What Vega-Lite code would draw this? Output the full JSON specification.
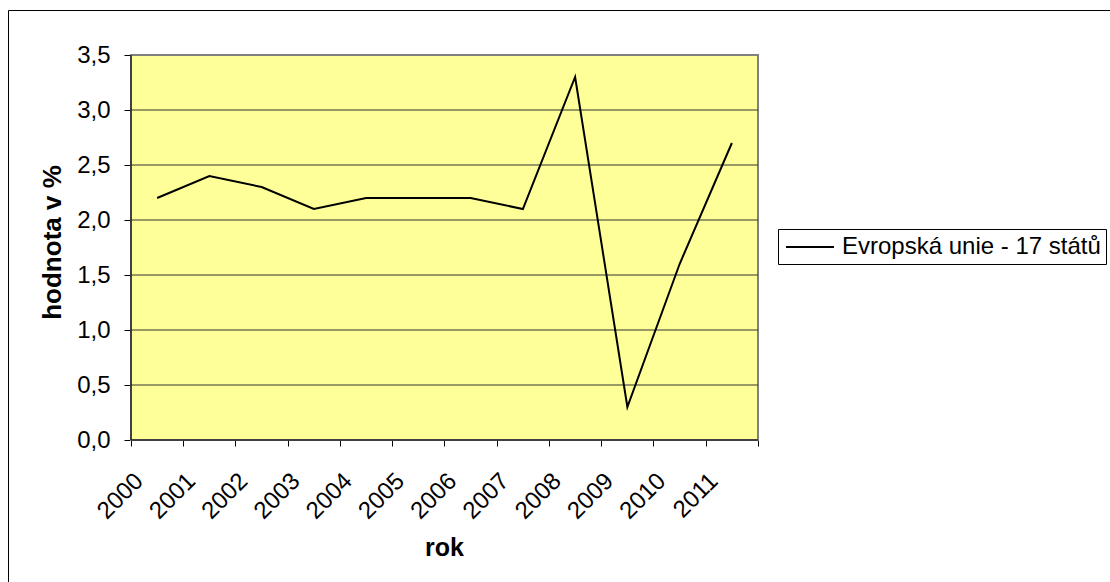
{
  "$schema": "https://vega.github.io/schema/vega-lite/v6.json",
  "width": 1110,
  "height": 580,
  "autosize": "none",
  "padding": {"left": 8, "top": 10, "right": 0, "bottom": 0},
  "background": "white",
  "config": {
    "view": {"stroke": "black", "strokeWidth": 1},
    "font": "Liberation Sans",
    "axis": {
      "labelFont": "Liberation Sans",
      "titleFont": "Liberation Sans",
      "labelColor": "black",
      "titleColor": "black",
      "tickColor": "black",
      "tickWidth": 1,
      "grid": false,
      "domain": false,
      "labelFontSize": 24,
      "titleFontSize": 26,
      "titleFontWeight": "bold",
      "labelFlush": false,
      "labelOverlap": false,
      "labelBound": false
    }
  },
  "datasets": {
    "eu17": [
      {"rok": 2000, "hodnota": 2.2, "rada": "Evropská unie - 17 států"},
      {"rok": 2001, "hodnota": 2.4, "rada": "Evropská unie - 17 států"},
      {"rok": 2002, "hodnota": 2.3, "rada": "Evropská unie - 17 států"},
      {"rok": 2003, "hodnota": 2.1, "rada": "Evropská unie - 17 států"},
      {"rok": 2004, "hodnota": 2.2, "rada": "Evropská unie - 17 států"},
      {"rok": 2005, "hodnota": 2.2, "rada": "Evropská unie - 17 států"},
      {"rok": 2006, "hodnota": 2.2, "rada": "Evropská unie - 17 států"},
      {"rok": 2007, "hodnota": 2.1, "rada": "Evropská unie - 17 států"},
      {"rok": 2008, "hodnota": 3.3, "rada": "Evropská unie - 17 států"},
      {"rok": 2009, "hodnota": 0.3, "rada": "Evropská unie - 17 států"},
      {"rok": 2010, "hodnota": 1.6, "rada": "Evropská unie - 17 států"},
      {"rok": 2011, "hodnota": 2.7, "rada": "Evropská unie - 17 států"}
    ],
    "mrizka": [
      {"h": 0.5}, {"h": 1.0}, {"h": 1.5}, {"h": 2.0}, {"h": 2.5}, {"h": 3.0}
    ]
  },
  "layer": [
    {
      "data": {"values": [{}]},
      "mark": {"type": "rect", "fill": "#FFFF99", "stroke": "#808080", "strokeWidth": 2},
      "encoding": {
        "x": {
          "datum": 1999.5,
          "type": "quantitative",
          "scale": {"domain": [1997.146, 2018.39], "nice": false, "zero": false},
          "axis": {
            "title": "rok",
            "values": [1999.5, 2000.5, 2001.5, 2002.5, 2003.5, 2004.5, 2005.5, 2006.5, 2007.5, 2008.5, 2009.5, 2010.5, 2011.5],
            "labelExpr": "datum.value < 2011 ? format(datum.value + 0.5, 'd') : ''",
            "offset": -150,
            "tickSize": 6,
            "labelAngle": -45,
            "labelAlign": "right",
            "labelBaseline": "middle",
            "labelPadding": 31,
            "labelOffset": 8,
            "titleX": 436,
            "titleY": 115,
            "titleAlign": "center",
            "titleBaseline": "alphabetic",
            "titleFontSize": 25
          }
        },
        "x2": {"datum": 2011.5},
        "y": {
          "datum": 0,
          "type": "quantitative",
          "scale": {"domain": [-1.3636, 3.9091], "nice": false, "zero": false},
          "axis": {
            "title": "hodnota v %",
            "values": [0, 0.5, 1, 1.5, 2, 2.5, 3, 3.5],
            "labelExpr": "replace(format(datum.value, '.1f'), '.', ',')",
            "offset": -123,
            "tickSize": 7,
            "labelPadding": 14,
            "titleX": -71,
            "titleY": 232,
            "titleAlign": "center",
            "titleBaseline": "alphabetic",
            "titleAngle": 270
          }
        },
        "y2": {"datum": 3.5}
      }
    },
    {
      "data": {"name": "mrizka"},
      "mark": {"type": "rule", "color": "#333333", "strokeWidth": 1},
      "encoding": {
        "x": {"datum": 1999.5, "type": "quantitative"},
        "x2": {"datum": 2011.5},
        "y": {"field": "h", "type": "quantitative"}
      }
    },
    {
      "data": {"values": [{}]},
      "mark": {"type": "rule", "color": "black", "strokeWidth": 1},
      "encoding": {
        "x": {"datum": 1999.5, "type": "quantitative"},
        "y": {"datum": 0, "type": "quantitative"},
        "y2": {"datum": 3.5}
      }
    },
    {
      "data": {"values": [{}]},
      "mark": {"type": "rule", "color": "black", "strokeWidth": 1},
      "encoding": {
        "x": {"datum": 1999.5, "type": "quantitative"},
        "x2": {"datum": 2011.5},
        "y": {"datum": 0, "type": "quantitative"}
      }
    },
    {
      "data": {"name": "eu17"},
      "mark": {"type": "line", "strokeWidth": 2},
      "encoding": {
        "x": {"field": "rok", "type": "quantitative"},
        "y": {"field": "hodnota", "type": "quantitative"},
        "color": {
          "field": "rada",
          "type": "nominal",
          "scale": {"range": ["black"]},
          "legend": {
            "orient": "none",
            "legendX": 770,
            "legendY": 219,
            "title": null,
            "strokeColor": "black",
            "fillColor": "white",
            "padding": 5,
            "symbolType": "M-2,0H2",
            "symbolSize": 576,
            "symbolOffset": 14,
            "symbolStrokeWidth": 2,
            "symbolStrokeColor": "black",
            "symbolFillColor": "transparent",
            "labelFontSize": 24,
            "labelFont": "Liberation Sans",
            "labelColor": "black",
            "labelLimit": 0,
            "labelOffset": 19,
            "cornerRadius": 0
          }
        }
      }
    }
  ]
}
